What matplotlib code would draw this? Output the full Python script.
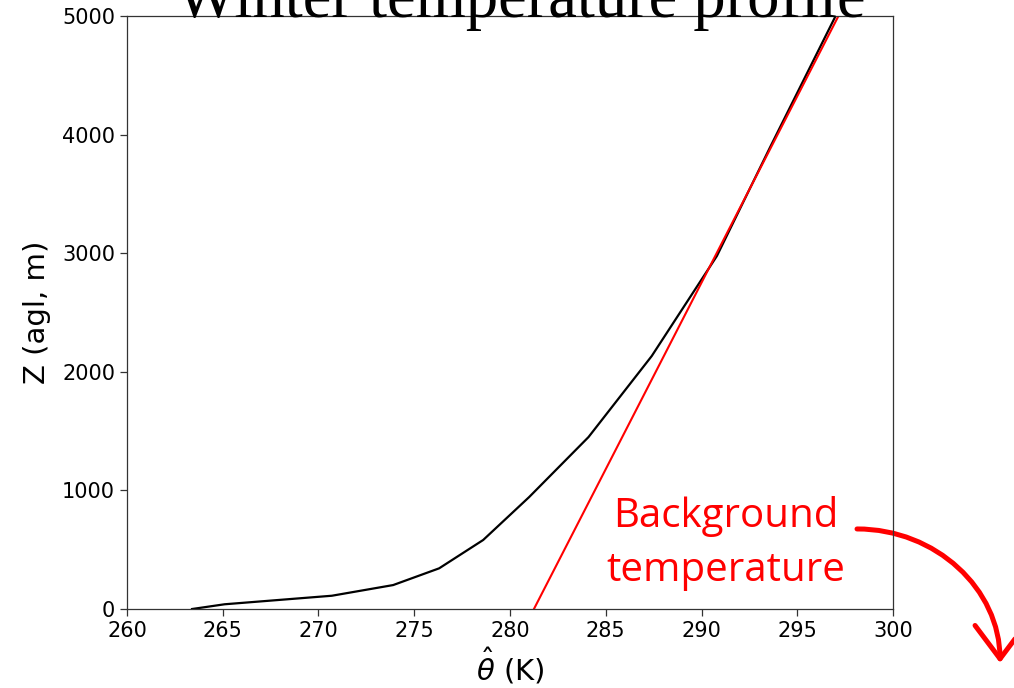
import numpy as np
import matplotlib
matplotlib.use('Agg')
import matplotlib.pyplot as plt
from matplotlib.patches import FancyArrowPatch
from matplotlib.path import Path

# potential temperature profile (K) vs height above ground (m)
theta = [263.4, 265.1, 270.7, 273.9, 276.3, 278.6, 281.0, 284.1, 287.4, 290.8, 293.6, 297.0]
z = [0, 40, 112, 202, 343, 582, 944, 1450, 2133, 2976, 3900, 5000]

# background (constant lapse) profile
bg_theta = [281.25, 297.15]
bg_z = [0, 5000]

xticks = [260, 265, 270, 275, 280, 285, 290, 295, 300]
yticks = [0, 1000, 2000, 3000, 4000, 5000]

fig = plt.figure(figsize=(10.14, 6.88), dpi=100)
ax = fig.add_axes([0.1252, 0.1148, 0.7555, 0.8619])

ax.plot(theta, z, color='black', lw=1.6)
ax.plot(bg_theta, bg_z, color='red', lw=1.5)

ax.set_xlim(260, 300)
ax.set_ylim(0, 5000)
ax.set_xticks(xticks)
ax.set_yticks(yticks)
ax.tick_params(labelsize=15, length=5, width=0.9, color='#333333')
for s in ax.spines.values():
    s.set_linewidth(0.9)
    s.set_color('#333333')

ax.set_xlabel(r'$\hat{\theta}$ (K)', fontsize=21, labelpad=4)
ax.set_ylabel('Z (agl, m)', fontsize=21, labelpad=8)

fig.text(521/1014, 1 - 17/688, 'Winter temperature profile', family='Liberation Serif',
         fontsize=46.5, ha='center', va='baseline')

ax.text(0.7815, 0.111, 'Background\ntemperature', color='red', family='Open Sans',
        fontsize=29, ha='center', va='center', linespacing=1.45, transform=ax.transAxes)

# quarter-ellipse arrow leaving the plot area (axes fraction coords)
x0, y0 = 0.953, 0.135
x1, y1 = 1.1397, -0.091
k = 0.5523
rx, ry = x1 - x0, y0 - y1
arc = Path([(x0, y0), (x0 + k*rx, y0), (x1, y1 + k*ry), (x1, y1)],
           [Path.MOVETO, Path.CURVE4, Path.CURVE4, Path.CURVE4])
arrow = FancyArrowPatch(path=arc, arrowstyle='->,head_length=1.2,head_width=0.9',
                        mutation_scale=20, color='red', lw=3.6,
                        transform=ax.transAxes, clip_on=False)
ax.add_patch(arrow)

fig.savefig('out.png', dpi=100)
